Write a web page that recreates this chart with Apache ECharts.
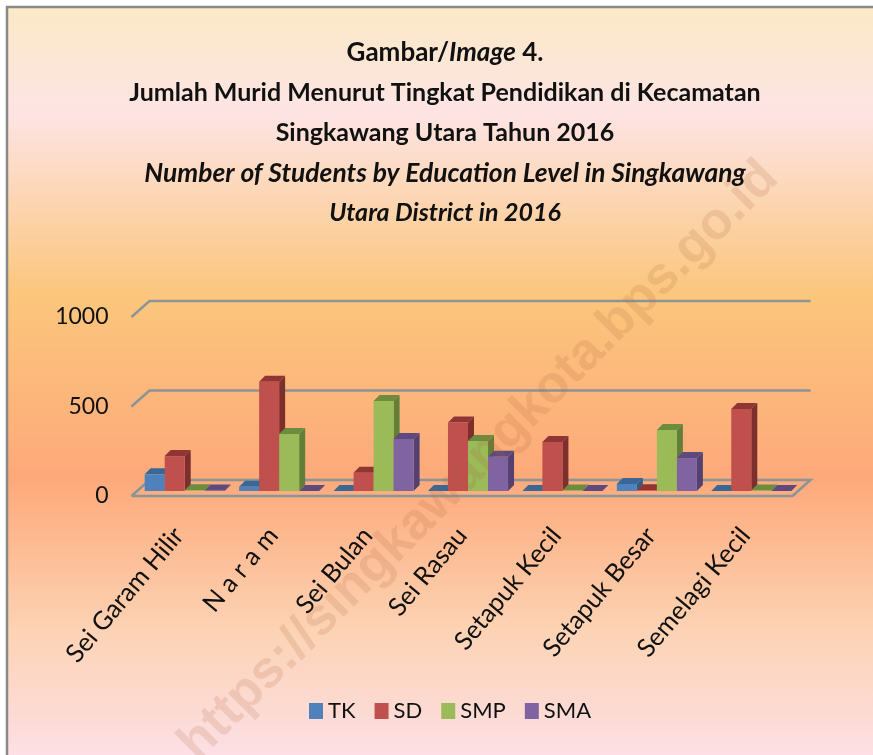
<!DOCTYPE html>
<html>
<head>
<meta charset="utf-8">
<script src="https://cdn.jsdelivr.net/npm/echarts@6/dist/echarts.min.js"></script>
<style>
  html, body { margin: 0; padding: 0; background: #fff; }
  #chart { width: 873px; height: 755px; }
</style>
</head>
<body>
<div id="chart"></div>
<script>
    var categories = ['Sei Garam Hilir', 'N a r a m', 'Sei Bulan', 'Sei Rasau', 'Setapuk Kecil', 'Setapuk Besar', 'Semelagi Kecil'];
    var tk = [93, 24, 0, 0, 0, 39, 0];
    var sd = [195, 610, 102, 382, 274, 4, 458];
    var smp = [4, 318, 503, 279, 3, 341, 3];
    var sma = [3, 0, 290, 192, 0, 184, 0];
    var yTicks = [0, 500, 1000];

    var FONT = 'Lato';
    var DEPTH_X = 18, DEPTH_Y = 16;     // wall depth
    var BAR_DX = 6, BAR_DY = 5;         // bars stand a little behind the front edge
    var BAR_SIDE = 6;                   // depth of one bar
    var GRID_COLOR = '#8b9497';

    var palette = [
        { name: 'TK', data: tk, front: '#4f81bd', top: '#3a6795', side: '#345b87' },
        { name: 'SD', data: sd, front: '#c0504d', top: '#8f3533', side: '#7d2f2d' },
        { name: 'SMP', data: smp, front: '#9bbb59', top: '#6d8c3d', side: '#627f37' },
        { name: 'SMA', data: sma, front: '#8064a2', top: '#5f4a80', side: '#54416f' }
    ];

    // one bar: front, side and top faces, positioned from the axis scales
    function barRenderer(index, item) {
        return function (params, api) {
            var band = api.size([1, 0])[0];
            var w = band * 0.212;
            var base = api.coord([api.value(0), 0]);
            var top = api.coord([api.value(0), api.value(1)]);
            var x = base[0] + BAR_DX + (index - 2) * w;
            var y0 = base[1] - BAR_DY;
            var y1 = top[1] - BAR_DY;
            return {
                type: 'group',
                children: [{
                    type: 'polygon',
                    shape: { points: [[x + w, y0], [x + w + BAR_SIDE, y0 - BAR_SIDE], [x + w + BAR_SIDE, y1 - BAR_SIDE], [x + w, y1]] },
                    style: { fill: item.side }
                }, {
                    type: 'polygon',
                    shape: { points: [[x, y1], [x + BAR_SIDE, y1 - BAR_SIDE], [x + w + BAR_SIDE, y1 - BAR_SIDE], [x + w, y1]] },
                    style: { fill: item.top }
                }, {
                    type: 'rect',
                    shape: { x: x, y: y1, width: w, height: y0 - y1 },
                    style: { fill: item.front }
                }]
            };
        };
    }

    // gridline on the back wall with its short diagonal, floor outline for 0
    function wallRenderer(params, api) {
        var cs = params.coordSys;
        var y = api.coord([0, api.value(0)])[1];
        var left = cs.x, right = cs.x + cs.width;
        var pts = [[left, y], [left + DEPTH_X, y - DEPTH_Y], [right + DEPTH_X, y - DEPTH_Y]];
        if (api.value(0) === 0) {
            pts.push([right, y]);
            pts.push([left, y]);
        }
        return {
            type: 'polyline',
            shape: { points: pts },
            style: { fill: null, stroke: GRID_COLOR, lineWidth: 2.5 }
        };
    }

    var series = [{
        type: 'custom',
        silent: true,
        z: 1,
        clip: false,
        renderItem: wallRenderer,
        encode: { y: 0 },
        data: yTicks.map(function (v) { return [v]; })
    }];

    palette.forEach(function (item, index) {
        series.push({
            name: item.name,
            type: 'custom',
            z: 2 + index,
            clip: false,
            itemStyle: { color: item.front },
            renderItem: barRenderer(index, item),
            encode: { x: 0, y: 1 },
            data: item.data.map(function (v, i) { return [i, v]; })
        });
    });

    var option = {
        animation: false,
        graphic: [{
            type: 'rect',
            z: -10,
            shape: { x: 7, y: 7, width: 880, height: 760 },
            style: {
                stroke: '#8a8a8a',
                lineWidth: 2.5,
                fill: new echarts.graphic.LinearGradient(0, 0, 0, 1, [
                    { offset: 0, color: '#fbe9c6' },
                    { offset: 0.14, color: '#fde4e4' },
                    { offset: 0.38, color: '#fbc67c' },
                    { offset: 0.62, color: '#fda97a' },
                    { offset: 0.82, color: '#fcd3b4' },
                    { offset: 1, color: '#fde0ea' }
                ])
            }
        }, {
            type: 'text',
            z: 100,
            silent: true,
            x: 479,
            y: 461,
            rotation: 45 * Math.PI / 180,
            style: {
                text: 'https://singkawangkota.bps.go.id',
                font: 'bold 52px "Liberation Sans"',
                fill: 'rgba(170,100,60,0.17)',
                align: 'center',
                verticalAlign: 'middle'
            }
        }],
        title: {
            left: 440,
            textAlign: 'center',
            top: 28,
            text: [
                '{bt|Gambar/}{btl|Image}{bt| 4.}',
                '{b|Jumlah Murid Menurut Tingkat Pendidikan di Kecamatan}',
                '{b|Singkawang Utara Tahun 2016}',
                '{bl|Number of Students by Education Level in Singkawang}',
                '{bi|Utara District in 2016}'
            ].join('\n'),
            textStyle: {
                rich: {
                    b: { fontFamily: FONT, fontWeight: 'bold', fontSize: 25, lineHeight: 40, color: '#111' },
                    bt: { fontFamily: FONT, fontWeight: 'bold', fontSize: 26, lineHeight: 40, color: '#111' },
                    btl: { fontFamily: FONT, fontWeight: 'bold', fontStyle: 'italic', fontSize: 26, lineHeight: 40, color: '#111' },
                    bi: { fontFamily: FONT, fontWeight: 'bold', fontStyle: 'italic', fontSize: 25, lineHeight: 40, color: '#111' },
                    bl: { fontFamily: FONT, fontWeight: 'bold', fontStyle: 'italic', fontSize: 26.4, lineHeight: 40, color: '#111' }
                }
            }
        },
        legend: {
            left: 304,
            top: 695,
            icon: 'rect',
            itemWidth: 14,
            itemHeight: 16,
            itemGap: 19,
            textStyle: { fontFamily: FONT, fontSize: 22, color: '#111' },
            data: ['TK', 'SD', 'SMP', 'SMA']
        },
        grid: { left: 131.5, right: 80.5, top: 317, bottom: 259 },
        xAxis: {
            type: 'category',
            data: categories,
            axisLine: { show: false },
            axisTick: { show: false },
            axisLabel: {
                interval: 0,
                rotate: 50,
                margin: 35,
                fontFamily: FONT,
                fontSize: 25.5,
                color: '#111'
            }
        },
        yAxis: {
            type: 'value',
            min: 0,
            max: 1000,
            interval: 500,
            axisLine: { show: false },
            axisTick: { show: false },
            splitLine: { show: false },
            axisLabel: {
                margin: 23,
                fontFamily: FONT,
                fontSize: 23,
                color: '#111',
                formatter: function (value) {
                    return String(value);
                }
            }
        },
        series: series
    };

    var myChart = echarts.init(document.getElementById('chart'));
    myChart.setOption(option);
    window.addEventListener('resize', function () {
        myChart.resize();
    });
</script>
</body>
</html>
